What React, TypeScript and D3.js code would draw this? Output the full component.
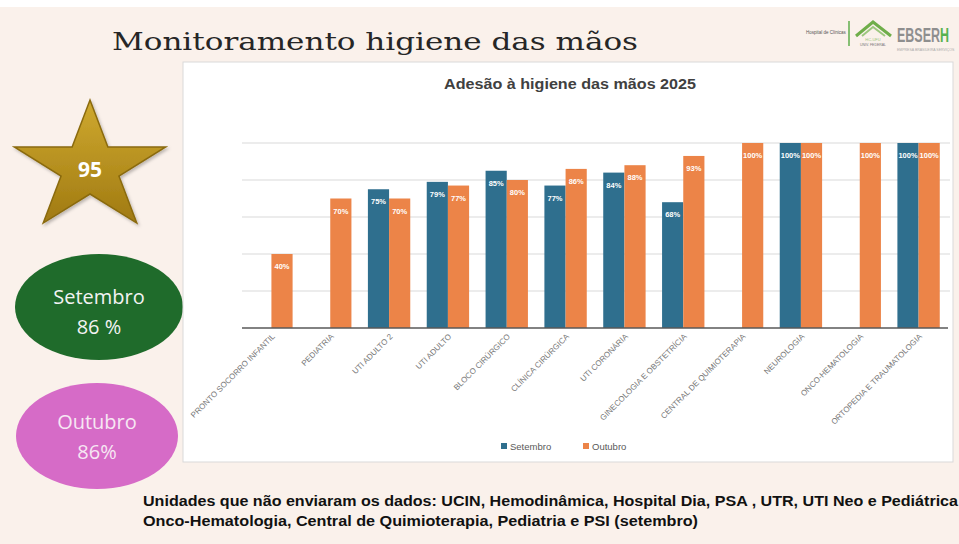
import React from "react";
import * as d3 from "d3";

// chart data
const categories = [
  "PRONTO SOCORRO INFANTIL",
  "PEDIATRIA",
  "UTI ADULTO 2",
  "UTI ADULTO",
  "BLOCO CIRÚRGICO",
  "CLÍNICA CIRÚRGICA",
  "UTI CORONÁRIA",
  "GINECOLOGIA E OBSTETRÍCIA",
  "CENTRAL DE QUIMIOTERAPIA",
  "NEUROLOGIA",
  "ONCO-HEMATOLOGIA",
  "ORTOPEDIA E TRAUMATOLOGIA",
];
const setembro = [null, null, 75, 79, 85, 77, 84, 68, null, 100, null, 100];
const outubro = [40, 70, 70, 77, 80, 86, 88, 93, 100, 100, 100, 100];
const seriesNames = ["Setembro", "Outubro"];
const yTicks = [0, 20, 40, 60, 80, 100];

// side badges
const metaValue = "95";
const setembroTotal = "86 %";
const outubroTotal = "86%";

const W = 959;
const H = 544;
const BLUE = "#2f6f8e";
const ORANGE = "#ec8448";
const CREAM = "#faf1eb";

export default function App() {
  const x = d3.scaleBand().domain(categories).range([242, 948]).paddingInner(0.28).paddingOuter(0.14);
  const xs = d3.scaleBand().domain(seriesNames).range([0, x.bandwidth()]);
  const y = d3.scaleLinear().domain([0, 100]).range([328, 143]);
  const color = d3.scaleOrdinal<string>().domain(seriesNames).range([BLUE, ORANGE]);

  const rows = categories.map((c, i) => ({ c, vals: [setembro[i], outubro[i]] }));

  // star shape
  const cx = 90, cy = 168, R = 68, r = 26, sx = 1.17;
  const starPts = d3.range(10).map((k) => {
    const a = (k * Math.PI) / 5;
    const rad = k % 2 === 0 ? R : r;
    return [cx + Math.sin(a) * rad * sx, cy - Math.cos(a) * rad] as [number, number];
  });
  const starPath = d3.line()(starPts) + "Z";

  return (
    <svg width={W} height={H} style={{ position: "absolute", left: 0, top: 0 }}>
      <defs>
        <linearGradient id="gold" x1="0" y1="0" x2="0" y2="1">
          <stop offset="0" stopColor="#cfa92f" />
          <stop offset="1" stopColor="#a07a12" />
        </linearGradient>
        <linearGradient id="ebserh" gradientUnits="userSpaceOnUse" x1={897} y1={0} x2={949} y2={0}>
          <stop offset="0.82" stopColor="#8e8e8e" />
          <stop offset="0.82" stopColor="#57b14f" />
        </linearGradient>
        <filter id="sh" x="-10%" y="-10%" width="130%" height="130%">
          <feDropShadow dx="1.5" dy="2" stdDeviation="1.5" floodColor="#000" floodOpacity="0.25" />
        </filter>
      </defs>
      <rect width={W} height={H} fill="#ffffff" />
      <rect x={0} y={7} width={W} height={H - 7} fill={CREAM} />

      {/* slide title */}
      <text x={112} y={50} fontFamily="DejaVu Serif" fontSize={25} fill="#262626" textLength={526} lengthAdjust="spacingAndGlyphs">
        Monitoramento higiene das mãos
      </text>

      {/* logos */}
      <g fontFamily="Liberation Sans">
        <text x={806} y={34} fontSize={4.5} fill="#555">Hospital de Clínicas</text>
        <line x1={849} x2={849} y1={21} y2={46} stroke="#5fae4d" strokeWidth={1.5} />
        <path d="M856,36 L873,22 L891,36" fill="none" stroke="#6fae4a" strokeWidth={3} />
        <path d="M862,36 L873,27 L885,36" fill="none" stroke="#9cc77e" strokeWidth={2} />
        <text x={873} y={41} fontSize={4} fill="#9cc77e" textAnchor="middle">HC-UFU</text>
        <text x={873} y={46} fontSize={3.5} fill="#777" textAnchor="middle">UNIV. FEDERAL</text>
        <text x={897} y={42} fontSize={20} fontWeight="bold" fill="url(#ebserh)" textLength={52} lengthAdjust="spacingAndGlyphs">
          EBSERH
        </text>
        <text x={897} y={51} fontSize={3.5} fill="#aaa">EMPRESA BRASILEIRA SERVIÇOS</text>
      </g>

      {/* star */}
      <path d={starPath} fill="url(#gold)" stroke="#8a6a0e" strokeWidth={1.5} filter="url(#sh)" />
      <text x={cx} y={cy + 9} textAnchor="middle" fontFamily="Open Sans" fontWeight="bold" fontSize={21} fill="#ffffff">
        {metaValue}
      </text>

      {/* month ellipses */}
      <ellipse cx={99} cy={307} rx={84} ry={53} fill="#1f6b2b" />
      <text x={99} y={304} textAnchor="middle" fontFamily="Open Sans" fontSize={20} fill="#f3f3f3">Setembro</text>
      <text x={99} y={334} textAnchor="middle" fontFamily="Open Sans" fontSize={20} fill="#f3f3f3">{setembroTotal}</text>
      <ellipse cx={97} cy={436} rx={81} ry={53} fill="#d66bc7" />
      <text x={97} y={429} textAnchor="middle" fontFamily="Open Sans" fontSize={20} fill="#f6e7f3">Outubro</text>
      <text x={97} y={459} textAnchor="middle" fontFamily="Open Sans" fontSize={20} fill="#f6e7f3">{outubroTotal}</text>

      {/* chart panel */}
      <rect x={183} y={62} width={770} height={400} fill="#ffffff" stroke="#d9d9d9" />
      <text x={570} y={89} textAnchor="middle" fontFamily="Liberation Sans" fontWeight="bold" fontSize={14.5} fill="#404040" textLength={252} lengthAdjust="spacingAndGlyphs">
        Adesão à higiene das mãos 2025
      </text>

      {yTicks.slice(1).map((t) => (
        <line key={t} x1={242} x2={950} y1={y(t)} y2={y(t)} stroke="#d9d9d9" strokeWidth={1} />
      ))}

      {rows.map((row) => (
        <g key={row.c} transform={`translate(${x(row.c)},0)`}>
          {row.vals.map((v, j) =>
            v == null ? null : (
              <g key={j}>
                <rect
                  x={xs(seriesNames[j])}
                  y={y(v)}
                  width={xs.bandwidth()}
                  height={y(0) - y(v)}
                  fill={color(seriesNames[j])}
                />
                <text
                  x={(xs(seriesNames[j]) as number) + xs.bandwidth() / 2}
                  y={y(v) + 15}
                  textAnchor="middle"
                  fontFamily="Liberation Sans"
                  fontWeight="bold"
                  fontSize={7.5}
                  fill="#ffffff"
                >
                  {v}%
                </text>
              </g>
            )
          )}
        </g>
      ))}

      <line x1={242} x2={948} y1={y(0)} y2={y(0)} stroke="#595959" strokeWidth={1.5} />

      {categories.map((c) => {
        const cxx = (x(c) as number) + x.bandwidth() / 2 + 4;
        return (
          <text
            key={c}
            transform={`translate(${cxx},337) rotate(-45)`}
            textAnchor="end"
            fontFamily="Liberation Sans"
            fontSize={8}
            fill="#777777"
            style={{ textRendering: "geometricPrecision" }}
          >
            {c}
          </text>
        );
      })}

      {/* legend */}
      <g fontFamily="Liberation Sans" fontSize={9.5} fill="#595959">
        {seriesNames.map((s, i) => (
          <g key={s} transform={`translate(${501 + i * 82},446)`}>
            <rect x={0} y={-3} width={6} height={6} fill={color(s)} />
            <text x={9} y={3.5}>{s}</text>
          </g>
        ))}
      </g>

      {/* footnote */}
      <g fontFamily="Liberation Sans" fontWeight="bold" fontSize={14} fill="#111">
        <text x={143} y={506} textLength={815} lengthAdjust="spacingAndGlyphs">Unidades que não enviaram os dados: UCIN, Hemodinâmica, Hospital Dia, PSA , UTR, UTI Neo e Pediátrica</text>
        <text x={143} y={526} textLength={555} lengthAdjust="spacingAndGlyphs">Onco-Hematologia, Central de Quimioterapia, Pediatria e PSI (setembro)</text>
      </g>
    </svg>
  );
}
